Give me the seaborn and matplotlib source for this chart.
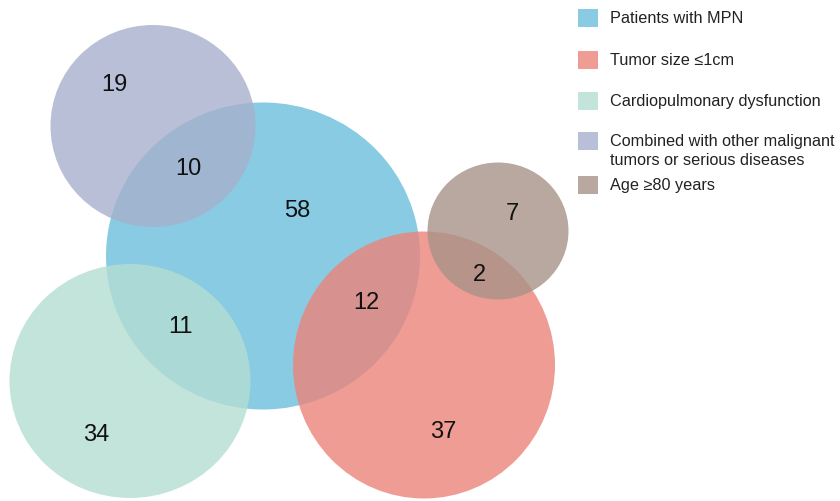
import matplotlib
matplotlib.use("Agg")
import matplotlib.pyplot as plt
from matplotlib.patches import Ellipse, Rectangle
import seaborn as sns

# ---- data ----
set_names = ["Patients with MPN", "Tumor size \u22641cm", "Cardiopulmonary dysfunction",
             "Combined with other malignant\ntumors or serious diseases", "Age \u226580 years"]
region_counts = [19, 10, 58, 11, 34, 12, 37, 7, 2]

# ---- layout (pixel space) ----
set_colors = ["#6BBFDC", "#EC847A", "#B5DED3", "#A6B0CC", "#A89288"]
circle_xy = [(263, 256), (424, 365), (130, 381), (153, 126), (498, 231)]
circle_wh = [(314, 307), (262, 267), (241, 234), (205, 202), (141, 137)]
draw_order = [0, 3, 2, 1, 4]
label_xy = [(114, 85), (188, 169), (297, 211), (180, 327), (96, 435),
            (366, 303), (443, 432), (512, 214), (479, 275)]
legend_y = [18, 60, 101, 141, 185]

sns.set_theme(style="white")
plt.rcParams["font.family"] = ["Liberation Sans", "DejaVu Sans"]

fig = plt.figure(figsize=(8.4, 5.01), dpi=100)
ax = fig.add_axes([0, 0, 1, 1])
ax.set_xlim(0, 840)
ax.set_ylim(501, 0)
ax.set_axis_off()

for i in draw_order:
    (cx, cy), (w, h) = circle_xy[i], circle_wh[i]
    ax.add_patch(Ellipse((cx, cy), w, h, facecolor=set_colors[i], alpha=0.8,
                         edgecolor="none"))

for n, (x, y) in zip(region_counts, label_xy):
    ax.text(x, y, str(n), ha="center", va="center", fontsize=17, color="#111111")

for name, col, y in zip(set_names, set_colors, legend_y):
    ax.add_patch(Rectangle((578, y - 9), 20, 18, facecolor=col, alpha=0.8,
                           edgecolor="none"))
    ax.text(610, y - 7, name, ha="left", va="top", fontsize=11.7,
            color="#222222", linespacing=1.32)

fig.savefig("out.png", dpi=100)
